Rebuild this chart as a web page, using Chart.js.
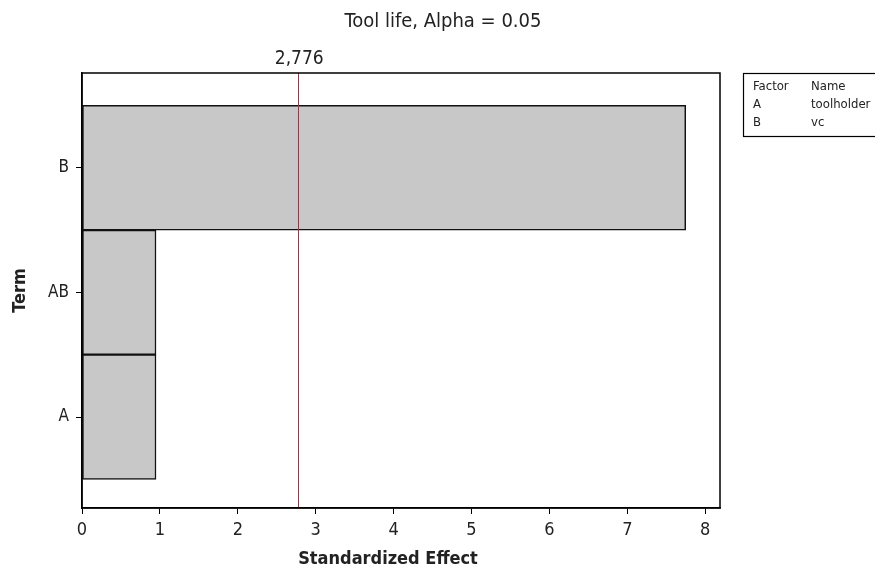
<!DOCTYPE html>
<html lang="en">
<head>
    <meta charset="UTF-8">
    <title>Pareto Chart of the Standardized Effects</title>
    <style>
        body { margin: 0; background: #fff; }
        #wrap { width: 875px; height: 568px; }
    </style>
    <script src="https://cdn.jsdelivr.net/npm/chart.js"></script>
</head>
<body>
    <div id="wrap"><canvas id="pareto" width="875" height="568"></canvas></div>

    <script>
        // Terms and their standardized effects
        const terms = ['A', 'AB', 'B'];
        const termPos = [1, 2, 3];
        const effects = [0.95, 0.95, 7.75];
        const xTicks = [0, 1, 2, 3, 4, 5, 6, 7, 8];
        const critValue = 2.776;
        const critLabel = '2,776';
        const titleText = 'Tool life, Alpha = 0.05';
        const xTitle = 'Standardized Effect';
        const factorRows = [['Factor', 'Name'], ['A', 'toolholder'], ['B', 'vc']];

        const FONT = '"DejaVu Sans Condensed", "DejaVu Sans", sans-serif';

        // Frame, reference line, titles and the factor box
        const extras = {
            id: 'extras',
            afterDatasetsDraw(chart) {
                const ctx = chart.ctx;
                const a = chart.chartArea;
                const x = chart.scales.x.getPixelForValue(critValue);
                ctx.save();
                // red critical line
                ctx.strokeStyle = '#b8283a';
                ctx.lineWidth = 1;
                ctx.beginPath();
                ctx.moveTo(Math.round(x) + 0.5, a.top);
                ctx.lineTo(Math.round(x) + 0.5, a.bottom);
                ctx.stroke();
                // frame
                ctx.strokeStyle = '#000';
                ctx.lineWidth = 1.5;
                ctx.strokeRect(a.left, a.top, a.right - a.left, a.bottom - a.top);
                // texts
                ctx.fillStyle = '#222';
                ctx.textAlign = 'center';
                ctx.textBaseline = 'alphabetic';
                ctx.font = '20px ' + FONT;
                ctx.fillText(titleText, 443, 27);
                ctx.font = '19px ' + FONT;
                ctx.fillText(critLabel, x + 1, 64);
                ctx.font = 'bold 18px ' + FONT;
                ctx.fillText(xTitle, 388, 564);
                // factor box
                ctx.lineWidth = 1.2;
                ctx.strokeRect(743.5, 73.5, 140, 63);
                ctx.font = '13px ' + FONT;
                ctx.textAlign = 'left';
                factorRows.forEach((r, i) => {
                    ctx.fillText(r[0], 753, 90 + i * 18);
                    ctx.fillText(r[1], 811, 90 + i * 18);
                });
                ctx.restore();
            }
        };

        const ctx = document.getElementById('pareto').getContext('2d');
        new Chart(ctx, {
            type: 'bar',
            data: {
                datasets: [{
                    data: effects.map((v, i) => ({ x: v, y: termPos[i] })),
                    backgroundColor: '#c8c8c8',
                    borderColor: '#111',
                    borderWidth: 1.5,
                    borderSkipped: false,
                    categoryPercentage: 1.0,
                    barPercentage: 1.0
                }]
            },
            options: {
                indexAxis: 'y',
                responsive: false,
                animation: false,
                layout: { padding: { top: 73, right: 155, bottom: 0, left: 0 } },
                plugins: { legend: { display: false }, tooltip: { enabled: false } },
                scales: {
                    x: {
                        type: 'linear',
                        min: 0,
                        max: 8.19,
                        afterBuildTicks: s => { s.ticks = xTicks.map(v => ({ value: v })); },
                        afterFit: s => { s.height = 60; },
                        grid: { drawOnChartArea: false, drawTicks: true, tickLength: 6, color: '#000' },
                        border: { display: true, color: '#000', width: 1.5 },
                        ticks: { color: '#222', font: { family: FONT, size: 18 }, padding: 6 }
                    },
                    y: {
                        type: 'linear',
                        offset: false,
                        min: 0.27,
                        max: 3.76,
                        afterBuildTicks: s => { s.ticks = termPos.map(v => ({ value: v })); },
                        afterFit: s => { s.width = 82; },
                        grid: { offset: false, drawOnChartArea: false, drawTicks: true, tickLength: 6, color: '#000' },
                        border: { display: true, color: '#000', width: 1.5 },
                        ticks: {
                            color: '#222',
                            font: { family: FONT, size: 17 },
                            padding: 7,
                            callback: v => terms[termPos.indexOf(v)] || ''
                        },
                        title: {
                            display: true,
                            text: 'Term',
                            color: '#222',
                            font: { family: FONT, size: 18, weight: 'bold' },
                            padding: { top: 10, bottom: 0 }
                        }
                    }
                }
            },
            plugins: [extras]
        });
    </script>
</body>
</html>
